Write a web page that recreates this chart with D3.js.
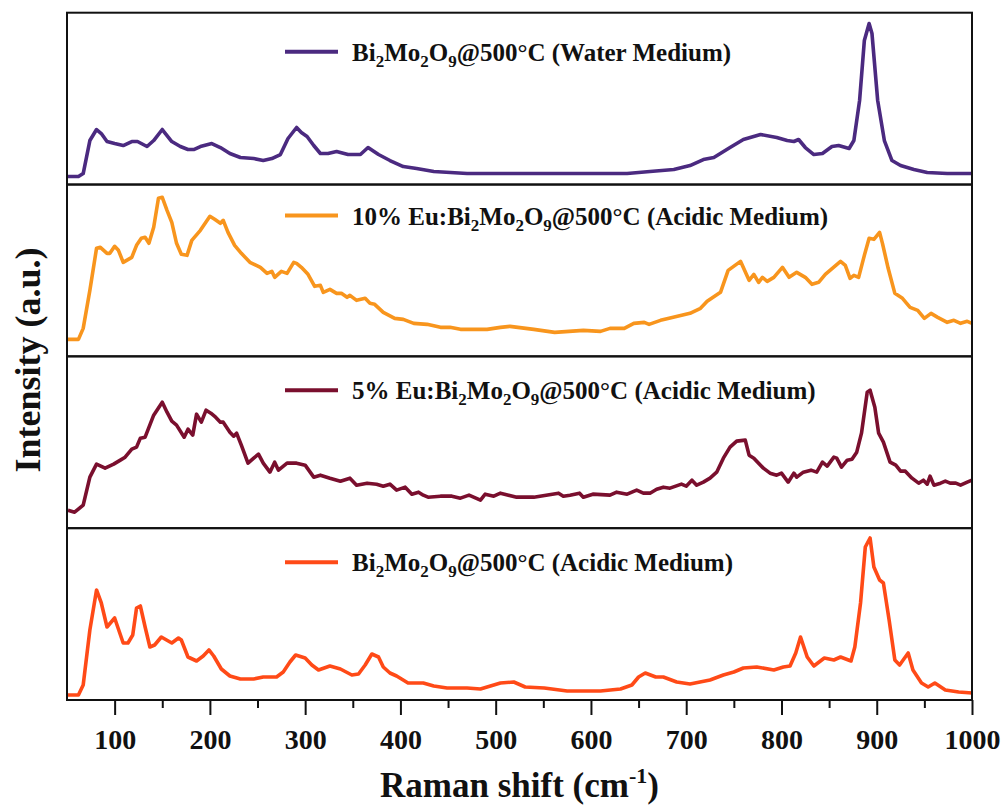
<!DOCTYPE html>
<html>
<head>
<meta charset="utf-8">
<script src="https://cdn.jsdelivr.net/npm/d3@7"></script>
<style>
  body { margin: 0; background: #fff; }
</style>
</head>
<body>
<svg id="chart" width="1007" height="807"></svg>
<script>
// Raman spectra, [shift cm-1, intensity a.u.]
const waterMedium = [[51,8],[62,8],[67,11],[74,44],[81,55],[86,51],[92,43],[100,41],[109,39],[118,43],[124,43],[134,38],[141,44],[150,55],[160,43],[169,38],[177,35],[183,35],[190,38],[202,41],[211,37],[221,31],[232,27],[246,26],[256,24],[265,26],[274,30],[282,46],[291,57],[296,52],[302,48],[309,39],[316,31],[324,31],[333,33],[345,30],[358,30],[366,37],[377,30],[389,24],[403,18],[417,16],[435,13],[470,11],[505,11],[575,11],[638,11],[662,13],[687,15],[704,19],[718,25],[729,27],[746,37],[760,45],[778,50],[795,47],[806,44],[813,43],[818,45],[825,37],[834,30],[843,31],[853,38],[860,39],[871,36],[876,44],[882,84],[887,144],[892,161],[895,151],[901,84],[908,44],[916,24],[925,19],[939,15],[953,12],[974,11],[1000,11]];

const eu10Acidic = [[51,17],[62,17],[67,28],[74,66],[81,108],[85,109],[92,103],[95,103],[100,110],[104,106],[109,94],[118,99],[123,111],[128,118],[132,119],[136,113],[141,129],[146,158],[150,159],[155,146],[160,134],[165,113],[170,102],[176,101],[181,116],[190,126],[200,140],[205,137],[211,133],[214,136],[219,124],[226,111],[233,103],[242,94],[253,89],[260,83],[265,85],[268,79],[275,85],[281,83],[288,94],[291,93],[296,89],[303,82],[310,70],[316,71],[319,64],[326,67],[333,63],[338,63],[344,59],[347,61],[354,56],[363,58],[368,53],[373,52],[382,44],[394,38],[403,37],[414,33],[428,32],[442,29],[452,29],[463,27],[477,27],[491,27],[505,29],[515,30],[540,27],[562,24],[592,26],[610,25],[620,28],[635,28],[645,33],[656,34],[661,32],[673,36],[682,38],[704,43],[715,48],[722,55],[736,64],[744,86],[757,95],[766,76],[771,82],[776,74],[780,79],[785,75],[792,79],[801,89],[808,79],[816,84],[825,79],[832,72],[839,74],[846,82],[862,95],[867,91],[872,78],[876,81],[881,79],[887,101],[892,118],[897,117],[903,124],[906,113],[912,88],[919,63],[927,58],[935,49],[943,46],[950,38],[957,43],[964,39],[974,34],[981,36],[988,33],[995,35],[1000,33]];

const eu5Acidic = [[51,18],[58,16],[67,23],[74,51],[81,64],[90,60],[99,64],[106,68],[111,71],[118,79],[123,81],[127,90],[132,91],[141,113],[150,126],[155,116],[160,107],[165,103],[173,91],[177,99],[182,93],[186,114],[191,106],[196,118],[201,115],[206,111],[211,106],[214,106],[221,96],[225,92],[228,95],[233,83],[240,65],[246,70],[251,74],[256,65],[263,56],[268,66],[272,58],[281,65],[291,65],[300,63],[309,51],[316,53],[326,50],[337,47],[347,50],[354,43],[365,45],[375,44],[382,42],[389,44],[396,38],[405,41],[412,34],[419,36],[424,33],[429,31],[442,32],[454,32],[463,30],[472,33],[484,28],[489,34],[498,32],[505,35],[522,31],[540,31],[566,35],[571,32],[578,33],[588,35],[592,31],[602,34],[620,33],[627,36],[638,34],[648,38],[655,35],[662,35],[669,39],[676,41],[683,40],[695,44],[700,42],[706,48],[711,43],[718,46],[725,50],[732,56],[739,70],[746,81],[753,87],[762,88],[766,73],[771,70],[781,60],[788,55],[795,53],[800,55],[807,46],[813,55],[816,51],[823,56],[831,58],[837,56],[843,66],[848,62],[855,71],[858,70],[863,61],[869,68],[874,69],[879,76],[884,95],[890,136],[893,138],[898,121],[902,95],[907,86],[914,66],[920,63],[925,57],[930,57],[937,50],[944,45],[949,48],[953,44],[956,52],[960,43],[967,45],[972,47],[977,45],[983,45],[988,43],[995,46],[1000,48]];

const pureAcidic = [[51,5],[62,5],[67,15],[74,70],[81,110],[86,97],[92,73],[100,82],[109,57],[114,57],[119,65],[123,92],[127,94],[132,73],[137,53],[142,55],[149,63],[160,57],[167,62],[170,60],[177,43],[186,39],[193,44],[199,50],[204,44],[212,31],[221,24],[232,21],[246,21],[256,23],[270,23],[277,28],[284,38],[290,45],[300,42],[307,35],[314,30],[326,34],[337,31],[349,25],[356,26],[363,35],[370,46],[377,43],[382,33],[389,27],[396,24],[408,17],[424,17],[435,14],[449,12],[470,12],[484,11],[498,15],[505,17],[519,18],[531,13],[551,12],[575,9],[610,9],[631,11],[643,15],[650,23],[657,27],[668,23],[676,23],[690,18],[704,16],[725,20],[739,25],[750,28],[760,32],[774,33],[792,30],[802,33],[809,34],[815,47],[820,63],[827,43],[834,34],[845,42],[855,40],[862,43],[873,39],[877,53],[883,97],[888,153],[893,162],[897,133],[903,120],[907,117],[913,80],[919,40],[924,35],[933,47],[938,30],[947,17],[954,13],[961,17],[972,10],[986,8],[1000,7]];

const seriesData = [waterMedium, eu10Acidic, eu5Acidic, pureAcidic];
const seriesColors = ["#4b2a80", "#f8951d", "#7a0f2e", "#ff4a17"];
// legend label parts: [text, isSubscript]
const seriesLabels = [
  [["Bi",0],["2",1],["Mo",0],["2",1],["O",0],["9",1],["@500°C (Water Medium)",0]],
  [["10% Eu:Bi",0],["2",1],["Mo",0],["2",1],["O",0],["9",1],["@500°C (Acidic Medium)",0]],
  [["5% Eu:Bi",0],["2",1],["Mo",0],["2",1],["O",0],["9",1],["@500°C (Acidic Medium)",0]],
  [["Bi",0],["2",1],["Mo",0],["2",1],["O",0],["9",1],["@500°C (Acidic Medium)",0]]
];
const legendOffsets = [39, 31, 34, 34];

const majorTicks = [100, 200, 300, 400, 500, 600, 700, 800, 900, 1000];
const minorTicks = [150, 250, 350, 450, 550, 650, 750, 850, 950];
const xDomain = [50, 1000];
const yDomain = [0, 171.8];

// Layout
const plotLeft = 67, plotRight = 972, plotTop = 12.7, plotBottom = 700;
const panelH = (plotBottom - plotTop) / seriesData.length;
const serif = "Liberation Serif";

const svg = d3.select("#chart");
const x = d3.scaleLinear().domain(xDomain).range([plotLeft, plotRight]);

seriesData.forEach(function (data, i) {
  let pTop = plotTop + i * panelH;
  let y = d3.scaleLinear().domain(yDomain).range([pTop + panelH, pTop]);

  let line = d3.line()
    .x(function (d) { return x(d[0]); })
    .y(function (d) { return y(d[1]); });

  svg.append("path")
    .datum(data)
    .attr("d", line)
    .attr("fill", "none")
    .attr("stroke", seriesColors[i])
    .attr("stroke-width", 3.6)
    .attr("stroke-linejoin", "round");

  // legend
  let ly = pTop + legendOffsets[i];
  svg.append("line")
    .attr("x1", 285).attr("x2", 338)
    .attr("y1", ly).attr("y2", ly)
    .attr("stroke", seriesColors[i])
    .attr("stroke-width", 4);

  let txt = svg.append("text")
    .attr("x", 352)
    .attr("y", ly + 9)
    .attr("font-family", serif)
    .attr("font-weight", "bold")
    .attr("font-size", 25)
    .attr("fill", "#111");
  seriesLabels[i].forEach(function (part, k) {
    let t = txt.append("tspan").text(part[0]);
    if (part[1])
      t.attr("font-size", 17).attr("dy", 6);
    else if (k > 0)
      t.attr("dy", -6);
  });

  // panel frame
  svg.append("rect")
    .attr("x", plotLeft).attr("y", pTop)
    .attr("width", plotRight - plotLeft).attr("height", panelH)
    .attr("fill", "none")
    .attr("stroke", "#111")
    .attr("stroke-width", 2);
});

// bottom axis
let xAxis = d3.axisBottom(x).tickValues(majorTicks).tickFormat(d3.format("d"))
  .tickSize(15).tickPadding(14);
let gx = svg.append("g")
  .attr("transform", "translate(0," + plotBottom + ")")
  .call(xAxis);
gx.attr("font-family", serif);
gx.select(".domain").remove();
gx.selectAll(".tick line").attr("stroke", "#111").attr("stroke-width", 2);
gx.selectAll(".tick text")
  .attr("font-size", 28)
  .attr("font-family", serif)
  .attr("font-weight", "bold")
  .attr("fill", "#111");

let gMinor = svg.append("g")
  .attr("transform", "translate(0," + plotBottom + ")")
  .call(d3.axisBottom(x).tickValues(minorTicks).tickSize(8).tickFormat(""));
gMinor.select(".domain").remove();
gMinor.selectAll(".tick line").attr("stroke", "#111").attr("stroke-width", 2);

// axis titles
let xt = svg.append("text")
  .attr("x", (plotLeft + plotRight) / 2)
  .attr("y", 797)
  .attr("text-anchor", "middle")
  .attr("font-family", serif)
  .attr("font-weight", "bold")
  .attr("font-size", 35)
  .attr("fill", "#111");
xt.append("tspan").text("Raman shift (cm");
xt.append("tspan").text("-1").attr("font-size", 22).attr("dy", -14);
xt.append("tspan").text(")").attr("dy", 14);

svg.append("text")
  .attr("transform", "translate(40,360) rotate(-90)")
  .attr("text-anchor", "middle")
  .attr("font-family", serif)
  .attr("font-weight", "bold")
  .attr("font-size", 36)
  .attr("fill", "#111")
  .text("Intensity (a.u.)");
</script>
</body>
</html>
